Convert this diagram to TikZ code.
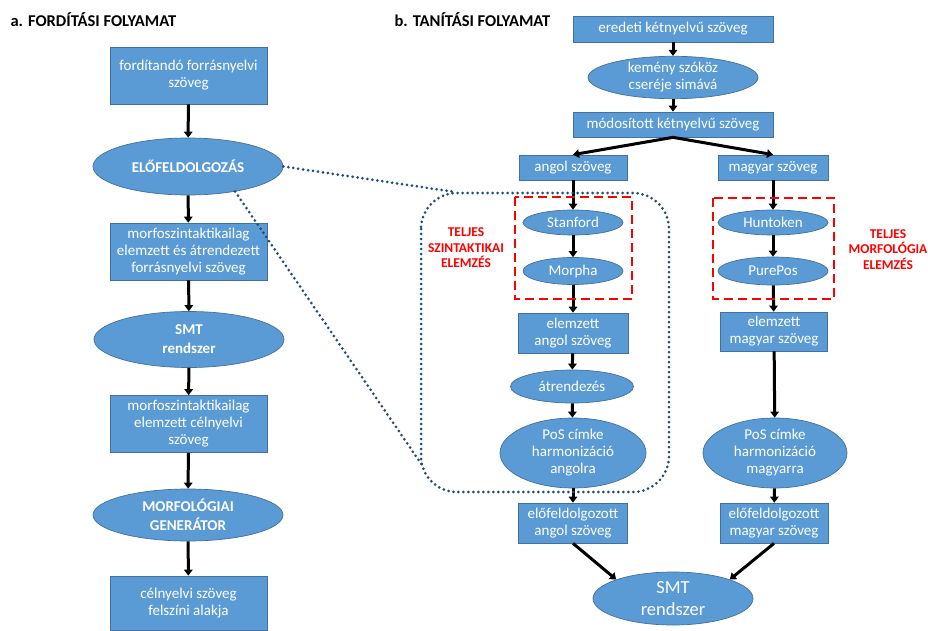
\documentclass[tikz,border=0pt]{standalone}
\usepackage{fontspec}
\setmainfont{Carlito}
\usetikzlibrary{shapes.geometric,arrows.meta}
\definecolor{boxblue}{HTML}{5B9BD5}
\definecolor{boxedge}{HTML}{41719C}
\definecolor{dotblue}{HTML}{1F4E79}
\definecolor{lblred}{HTML}{FF0000}
\tikzset{
  base/.style={fill=boxblue, draw=boxedge, line width=0.7pt, text=white, align=center, inner sep=0pt,
    font=\fontsize{15}{17}\selectfont},
  box/.style={base, rectangle},
  ell/.style={base, ellipse},
  boldell/.style={ell, font=\fontsize{15}{19}\selectfont\bfseries},
  arr/.style={line width=3pt, black, -{Triangle[length=6pt,width=8.5pt]}},
  reddash/.style={draw=lblred, line width=2.6pt, dash pattern=on 9pt off 5pt},
  dotline/.style={draw=dotblue, line width=3pt, line cap=round, dash pattern=on 0pt off 5pt},
  redlabel/.style={text=lblred, align=center, font=\fontsize{13.5}{15.5}\selectfont\bfseries},
  title/.style={anchor=west, font=\fontsize{16.5}{20}\selectfont\bfseries}
}
\begin{document}
\begin{tikzpicture}[x=1pt,y=-1pt]
\useasboundingbox (0,0) rectangle (928,631);
% titles
\node[title] (ta) at (7,20) {a. FORDÍTÁSI FOLYAMAT};
\node[title] (tb) at (391,20) {b. TANÍTÁSI FOLYAMAT};
% left column
\node[box, minimum width=157, minimum height=57] (L1) at (188.5,75.5) {fordítandó forrásnyelvi\\szöveg};
\node[boldell, minimum width=190, minimum height=57] (L2) at (188,166.5) {ELŐFELDOLGOZÁS};
\node[box, minimum width=157, minimum height=57] (L3) at (188.5,251.5) {morfoszintaktikailag\\elemzett és átrendezett\\forrásnyelvi szöveg};
\node[boldell, minimum width=190, minimum height=56] (L4) at (189,339.5) {SMT\\rendszer};
\node[box, minimum width=157, minimum height=57] (L5) at (188.5,424) {morfoszintaktikailag\\elemzett célnyelvi\\szöveg};
\node[boldell, minimum width=190, minimum height=52] (L6) at (188,515) {MORFOLÓGIAI\\GENERÁTOR};
\node[box, minimum width=157, minimum height=54] (L7) at (188.5,603) {célnyelvi szöveg\\felszíni alakja};
\draw[arr] (L1) -- (L2);
\draw[arr] (L2) -- (L3);
\draw[arr] (L3) -- (L4);
\draw[arr] (L4) -- (L5);
\draw[arr] (L5) -- (L6);
\draw[arr] (L6) -- (L7);
% right column top
\node[box, minimum width=200, minimum height=26] (R1) at (673,29) {eredeti kétnyelvű szöveg};
\node[ell, minimum width=170, minimum height=41] (R2) at (673,77.5) {kemény szóköz\\cseréje simává};
\node[box, minimum width=200, minimum height=25] (R3) at (673,124.5) {módosított kétnyelvű szöveg};
\node[box, minimum width=108, minimum height=25] (A1) at (573,167.5) {angol szöveg};
\node[box, minimum width=110, minimum height=25] (M1) at (773,167.5) {magyar szöveg};
\draw[arr] (R1) -- (R2);
\draw[arr] (R2) -- (R3);
\draw[arr] (R3.south) -- (A1.north);
\draw[arr] (R3.south) -- (M1.north);
% english branch
\node[ell, minimum width=100, minimum height=25] (A2) at (573,222.5) {Stanford};
\node[ell, minimum width=100, minimum height=27] (A3) at (573,271) {Morpha};
\node[box, minimum width=110, minimum height=40] (A4) at (573,333) {elemzett\\angol szöveg};
\node[ell, minimum width=123, minimum height=33] (A5) at (572,386.5) {átrendezés};
\node[ell, minimum width=146, minimum height=70] (A6) at (573,453) {PoS címke\\harmonizáció\\angolra};
\node[box, minimum width=109, minimum height=40] (A7) at (573,523) {előfeldolgozott\\angol szöveg};
\draw[arr] (A1) -- (A2);
\draw[arr] (A2) -- (A3);
\draw[arr] (A3) -- (A4);
\draw[arr] (A4) -- (A5);
\draw[arr] (A5) -- (A6);
\draw[arr] (A6) -- (A7);
% hungarian branch
\node[ell, minimum width=110, minimum height=25] (M2) at (773,222.5) {Huntoken};
\node[ell, minimum width=110, minimum height=28] (M3) at (773,271) {PurePos};
\node[box, minimum width=107, minimum height=39] (M4) at (774,331.5) {elemzett\\magyar szöveg};
\node[ell, minimum width=144, minimum height=70] (M5) at (775,453) {PoS címke\\harmonizáció\\magyarra};
\node[box, minimum width=108, minimum height=40] (M6) at (774,523) {előfeldolgozott\\magyar szöveg};
\draw[arr] (M1) -- (M2);
\draw[arr] (M2) -- (M3);
\draw[arr] (M3) -- (M4);
\draw[arr] (M4) -- (M5);
\draw[arr] (M5) -- (M6);
% final SMT
\node[ell, minimum width=160, minimum height=53, font=\fontsize{18.5}{22}\selectfont] (S) at (673,598.5) {SMT\\rendszer};
\draw[arr] (A7.south) -- (S.north west);
\draw[arr] (M6.south) -- (S.north east);
% red dashed groups
\draw[reddash] (515,197) rectangle (632,299);
\draw[reddash] (713,198) rectangle (834,299);
\node[redlabel] (lab1) at (466,248) {TELJES\\SZINTAKTIKAI\\ELEMZÉS};
\node[redlabel] (lab2) at (888,249.5) {TELJES\\MORFOLÓGIA\\ELEMZÉS};
% dotted zoom outline
\draw[dotline, rounded corners=36pt] (421,193) rectangle (669,492);
\coordinate (dz1) at (455,192);
\coordinate (dz2) at (422,465);
\draw[dotline] (L2.east) -- (dz1);
\draw[dotline] (L2.-28) -- (dz2);
\end{tikzpicture}
\end{document}
